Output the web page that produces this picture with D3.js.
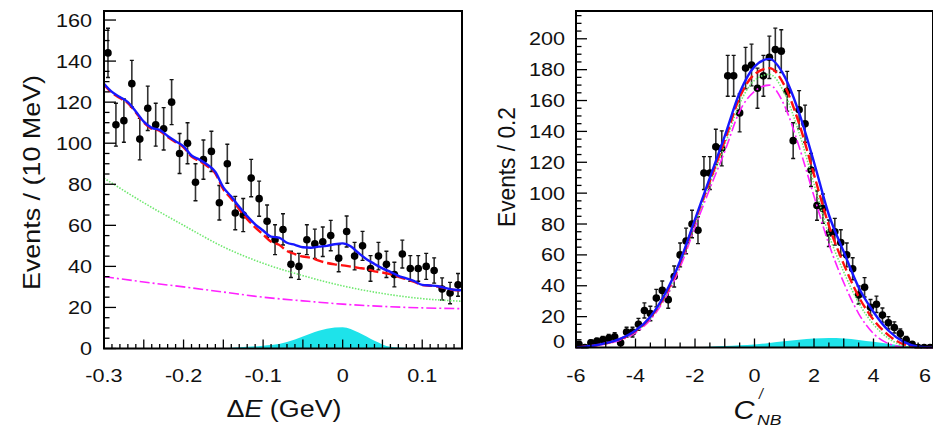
<!DOCTYPE html>
<html><head><meta charset="utf-8">
<script src="https://cdn.jsdelivr.net/npm/d3@7"></script>
<style>body{margin:0;background:#fff}svg{display:block}text{font-family:"Liberation Sans",Arial,Helvetica,sans-serif;fill:#111}</style>
</head><body><svg id="c" width="933" height="429"></svg>
<script>
// ---------- LEFT PANEL: Delta E ----------
const dEBins = [-0.295,-0.285,-0.275,-0.265,-0.255,-0.245,-0.235,-0.225,-0.215,-0.205,-0.195,-0.185,-0.175,-0.165,-0.155,-0.145,-0.135,-0.125,-0.115,-0.105,-0.095,-0.085,-0.075,-0.065,-0.055,-0.045,-0.035,-0.025,-0.015,-0.005,0.005,0.015,0.025,0.035,0.045,0.055,0.065,0.075,0.085,0.095,0.105,0.115,0.125,0.135,0.145];
const dECounts = [144,109,111,129,102,117,109,107,120,95,100,81,92,96,71,90,66,65,83,73,62,53,58,41,40,53,51,52,55,44,57,45,50,39,45,41,36,46,39,39,40,38,29,27,31];
const dEGrid = [-0.30,-0.29,-0.28,-0.27,-0.26,-0.25,-0.24,-0.23,-0.22,-0.21,-0.20,-0.19,-0.18,-0.17,-0.16,-0.15,-0.14,-0.13,-0.12,-0.11,-0.10,-0.09,-0.08,-0.07,-0.06,-0.05,-0.04,-0.03,-0.02,-0.01,0.00,0.01,0.02,0.03,0.04,0.05,0.06,0.07,0.08,0.09,0.10,0.11,0.12,0.13,0.14,0.15];
const dETotal = [129,125,122.5,120,115.5,110.5,107.5,106.5,103.5,101,98.5,94,92,89.5,86,78.5,74,69,64.5,60.5,57.5,54.5,54,51.5,50.5,49.3,49.1,49.6,50,50.8,51.2,49.8,46.5,43.5,41.2,39,37.3,35.4,34.2,32.8,31,30.7,30.3,29.4,28.6,28.3];
const dEBkgAll = [128.5,124.5,122,119.5,115,110,107,106,103,100.5,98,93.5,91.3,88.8,85.2,77.5,73,67.8,63,59,55.5,52,50.5,47.5,46,44.8,44.2,42.8,41.7,41,40.5,39.9,39.3,38.7,37.6,37,36.2,34.9,33.8,32.5,30.9,30.6,30.2,29.3,28.5,28.2];
const dEGridC = [-0.30,-0.25,-0.20,-0.15,-0.10,-0.05,0.00,0.05,0.10,0.15];
const dEGreen = [83,71,60,49.5,41.5,35.5,30.5,26.8,24.3,23];
const dEMagenta = [35,32.4,30,27.5,25,23.2,21.6,20.5,19.8,19.4];
const dESigGrid = [-0.16,-0.14,-0.12,-0.10,-0.08,-0.06,-0.04,-0.02,0.00,0.02,0.04,0.06,0.08,0.10];
const dESignal = [0,0.4,0.8,1.4,2.2,4.4,7.3,9.6,10.3,7.8,3.8,0.8,0.2,0];
const dEXTicks = [-0.3,-0.2,-0.1,0,0.1];
const dEXLabels = ["-0.3","-0.2","-0.1","0","0.1"];
const dEYTicks = [0,20,40,60,80,100,120,140,160];

// ---------- RIGHT PANEL: C'_NB ----------
const cBins = [-5.9,-5.7,-5.5,-5.3,-5.1,-4.9,-4.7,-4.5,-4.3,-4.1,-3.9,-3.7,-3.5,-3.3,-3.1,-2.9,-2.7,-2.5,-2.3,-2.1,-1.9,-1.7,-1.5,-1.3,-1.1,-0.9,-0.7,-0.5,-0.3,-0.1,0.1,0.3,0.5,0.7,0.9,1.1,1.3,1.5,1.7,1.9,2.1,2.3,2.5,2.7,2.9,3.1,3.3,3.5,3.7,3.9,4.1,4.3,4.5,4.7,4.9,5.1,5.3,5.5,5.7,5.9];
const cCounts = [2,0,3,4,5,6,7,3,10,10,15,24,22,32,37,31,46,60,69,80,76,113,113,130,129,176,176,152,181,183,168,176,188,193,192,166,134,154,145,115,92,90,74,75,68,60,51,34,39,26,28,21,16,13,9,5,2,0,0,0];
const cGrid = [-6,-5.5,-5,-4.5,-4,-3.5,-3,-2.5,-2,-1.5,-1,-0.5,0,0.5,1,1.5,2,2.5,3,3.5,4,4.5,5,5.5,6];
const cTotal   = [0,1,2.8,5.8,11,20,35,56,83,110,137,165,182,187,176,152,120,86,62,39,23,11,3.8,0.6,0];
const cBkgAll  = [0,1,2.7,5.6,10.6,19.5,34,55,82,108,134,162,177,181,170,145,112,79,54,33,18,8,2.2,0.2,0];
const cGreen   = [0,0.9,2.5,5.3,10.2,19,33,54,80,106,131,158,173,177,165,139,106,73,49,29,15,6,1.2,0,0];
const cMagenta = [0,0.8,2.3,4.8,9.5,18,32,52,78,103,127,153,166,170,157,130,98,67,42,22,9,2.5,0.3,0,0];
const cSigGrid = [-2.5,-2,-1.5,-1,-0.5,0,0.5,1,1.5,2,2.5,3,3.5,4,4.5,5,5.5,6];
const cSignal  = [0,0.2,0.5,0.9,1.4,2,2.9,4,5,5.8,6.1,5.8,4.9,3.7,2.4,1.1,0.3,0];
const cXTicks = [-6,-4,-2,0,2,4,6];
const cXLabels = ["-6","-4","-2","0","2","4","6"];
const cYTicks = [0,20,40,60,80,100,120,140,160,180,200];

const svg = d3.select('#c');
const SX = 1.17;

function drawPanel(p){
  const x = d3.scaleLinear().domain(p.xDomain).range(p.xRange);
  const y = d3.scaleLinear().domain(p.yDomain).range(p.yRange);
  const g = svg.append('g');
  const L = p.xRange[0], R = p.xRange[1], T = p.yRange[1], B = p.yRange[0];
  g.append('clipPath').attr('id', p.id+'clip').append('rect')
    .attr('x', L).attr('y', T).attr('width', R-L).attr('height', B-T+1);
  const plot = g.append('g').attr('clip-path', `url(#${p.id}clip)`);

  // signal fill
  const sig = p.sigX.map((v,i)=>[v,p.sigY[i]]);
  plot.append('path').datum(sig)
    .attr('d', d3.area().x(d=>x(d[0])).y0(y(0)).y1(d=>y(d[1])).curve(d3.curveMonotoneX))
    .attr('fill', '#1ee3ea');

  // data points with error bars
  const pts = p.bins.map((b,i)=>({x:b, v:p.counts[i]}));
  const eb = plot.append('g');
  pts.forEach(d=>{
    const e = Math.sqrt(d.v);
    if (e > 0) {
      const xp = x(d.x);
      eb.append('line').attr('x1',xp).attr('x2',xp).attr('y1',y(d.v-e)).attr('y2',y(d.v+e))
        .attr('stroke','#333').attr('stroke-width',1.6);
      [d.v-e, d.v+e].forEach(t=>{
        eb.append('line').attr('x1',xp-2).attr('x2',xp+2).attr('y1',y(t)).attr('y2',y(t))
          .attr('stroke','#111').attr('stroke-width',1.4);
      });
    }
  });
  plot.append('g').selectAll('circle').data(pts).join('circle')
    .attr('cx', d=>x(d.x)).attr('cy', d=>y(d.v)).attr('r', 3.8).attr('fill', '#000');

  // curves
  const line = d3.line().x(d=>x(d[0])).y(d=>y(d[1])).curve(d3.curveMonotoneX);
  p.curves.forEach(c=>{
    plot.append('path').datum(c.xs.map((v,i)=>[v,c.ys[i]]))
      .attr('d', line).attr('fill','none').attr('stroke', c.color)
      .attr('stroke-width', c.w).attr('stroke-dasharray', c.dash || null);
  });

  // ticks (inside)
  const tk = g.append('g').attr('stroke','#000').attr('stroke-width',1.3);
  p.xMinor.forEach(v=>{
    const len = p.xLen(v);
    tk.append('line').attr('x1',x(v)).attr('x2',x(v)).attr('y1',B).attr('y2',B-len);
  });
  p.yMinor.forEach(v=>{
    const len = p.yLen(v);
    tk.append('line').attr('x1',L).attr('x2',L+len).attr('y1',y(v)).attr('y2',y(v));
  });

  // frame
  g.append('rect').attr('x',L).attr('y',T).attr('width',R-L).attr('height',B-T)
    .attr('fill','none').attr('stroke','#000').attr('stroke-width',2);

  // tick labels
  g.append('g').selectAll('text').data(p.xTicks).join('text')
    .attr('transform', d=>`translate(${Math.min(x(d), p.xLabelMax)},${p.xLabelY}) scale(${SX},1)`)
    .attr('text-anchor','middle').attr('font-size',18.5)
    .text((d,i)=>p.xLabels[i]);
  g.append('g').selectAll('text').data(p.yTicks).join('text')
    .attr('transform', d=>`translate(${p.yLabelX},${y(d) + (d===0 ? p.zeroShift : 0)}) scale(${SX},1)`)
    .attr('text-anchor','end').attr('dy','0.35em').attr('font-size',18.5)
    .text(d=>d);
  return {x,y,g};
}

const left = drawPanel({
  id:'L', xDomain:[-0.3,0.15], xRange:[104,462], yDomain:[0,164.4], yRange:[348.5,11],
  bins:dEBins, counts:dECounts, sigX:dESigGrid, sigY:dESignal,
  curves:[
    {xs:dEGridC, ys:dEMagenta, color:'#ff22ff', w:1.6, dash:'10,3,2,3'},
    {xs:dEGridC, ys:dEGreen, color:'#6fe86f', w:1.6, dash:'1.5,1.5'},
    {xs:dEGrid, ys:dEBkgAll, color:'#ff1010', w:2.4, dash:'10,4'},
    {xs:dEGrid, ys:dETotal, color:'#1717ff', w:2.4}
  ],
  xMinor:d3.range(-0.3,0.1501,0.01).map(v=>+v.toFixed(2)),
  xLen:v=>(Math.abs(Math.round(v*100))%5===0 ? 9 : 4.5),
  yMinor:d3.range(0,164,5),
  yLen:v=>(v%20===0 ? 12 : 5.5),
  xTicks:dEXTicks, xLabels:dEXLabels, yTicks:dEYTicks,
  xLabelY:381.5, xLabelMax:1000, yLabelX:92, zeroShift:0
});

const right = drawPanel({
  id:'R', xDomain:[-6,6], xRange:[576,933], yDomain:[0,218], yRange:[347.5,11],
  bins:cBins, counts:cCounts, sigX:cSigGrid, sigY:cSignal,
  curves:[
    {xs:cGrid, ys:cMagenta, color:'#ff22ff', w:1.6, dash:'10,3,2,3'},
    {xs:cGrid, ys:cGreen, color:'#6fe86f', w:1.6, dash:'1.5,1.5'},
    {xs:cGrid, ys:cBkgAll, color:'#ff1010', w:2.4, dash:'10,4'},
    {xs:cGrid, ys:cTotal, color:'#1717ff', w:2.4}
  ],
  xMinor:d3.range(-6,6.01,0.5),
  xLen:v=>(Math.abs(v%1)<1e-6 ? 9 : 5),
  yMinor:d3.range(0,218,5),
  yLen:v=>(v%20===0 ? 11 : 5.5),
  xTicks:cXTicks, xLabels:cXLabels, yTicks:cYTicks,
  xLabelY:381.5, xLabelMax:925, yLabelX:565, zeroShift:-5.5
});

// axis titles
svg.append('text').attr('transform','translate(40,182.5) rotate(-90)')
  .attr('text-anchor','middle').attr('font-size',24)
  .attr('textLength',215).attr('lengthAdjust','spacingAndGlyphs')
  .text('Events / (10 MeV)');
svg.append('text').attr('transform','translate(515,167) rotate(-90)')
  .attr('text-anchor','middle').attr('font-size',23)
  .attr('textLength',120).attr('lengthAdjust','spacingAndGlyphs')
  .text('Events / 0.2');

const xt = svg.append('text').attr('transform',`translate(284,417) scale(${SX},1)`)
  .attr('text-anchor','middle').attr('font-size',23);
xt.append('tspan').text('Δ');
xt.append('tspan').attr('font-style','italic').text('E');
xt.append('tspan').text(' (GeV)');

svg.append('text').attr('transform',`translate(744,419) scale(${SX},1)`)
  .attr('text-anchor','middle').attr('font-size',25).attr('font-style','italic').text('C');
svg.append('text').attr('transform',`translate(761,399)`)
  .attr('text-anchor','middle').attr('font-size',14).attr('font-style','italic').text('/');
svg.append('text').attr('transform',`translate(757,425) scale(${SX},1)`)
  .attr('text-anchor','start').attr('font-size',15).attr('font-style','italic').text('NB');
</script></body></html>
